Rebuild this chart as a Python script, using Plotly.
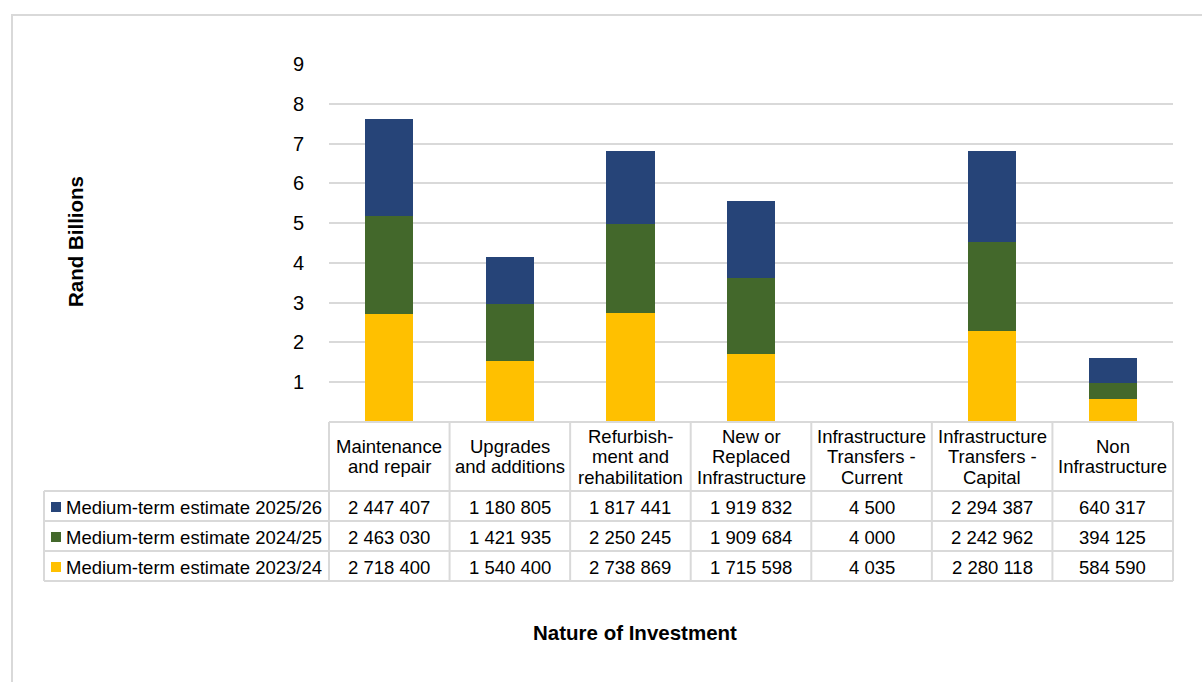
import plotly.graph_objects as go

# Nature of investment categories (header lines separated by "\n")
categories = [
    "Maintenance\nand repair",
    "Upgrades\nand additions",
    "Refurbish-\nment and\nrehabilitation",
    "New or\nReplaced\nInfrastructure",
    "Infrastructure\nTransfers -\nCurrent",
    "Infrastructure\nTransfers -\nCapital",
    "Non\nInfrastructure",
]

# Values in R thousand
est_2023_24 = [2718400, 1540400, 2738869, 1715598, 4035, 2280118, 584590]
est_2024_25 = [2463030, 1421935, 2250245, 1909684, 4000, 2242962, 394125]
est_2025_26 = [2447407, 1180805, 1817441, 1919832, 4500, 2294387, 640317]

series_names = [
    "Medium-term estimate 2025/26",
    "Medium-term estimate 2024/25",
    "Medium-term estimate 2023/24",
]
y_ticks = [1, 2, 3, 4, 5, 6, 7, 8, 9]

NAVY = "#264478"
GREEN = "#43682B"
GOLD = "#FFC000"
GRID = "#D9D9D9"
FONT = "Liberation Sans, Arial, sans-serif"

W, H = 1202, 682


def px(x):
    return x / W


def py(y):
    return 1 - y / H


def fmt(v):
    return f"{v:,}".replace(",", " ")


idx = list(range(len(categories)))
fig = go.Figure()
for vals, name, col in [
    (est_2023_24, series_names[2], GOLD),
    (est_2024_25, series_names[1], GREEN),
    (est_2025_26, series_names[0], NAVY),
]:
    fig.add_trace(go.Bar(
        x=idx, y=[v / 1e6 for v in vals], name=name,
        marker=dict(color=col, line=dict(width=0)), width=0.4,
    ))

# plot area geometry (pixels)
X0, X1 = 329, 1173
Y_TOP, Y_ZERO = 64, 422
ROWS = [491, 521, 551, 581]
LEG_X = 44
col_w = (X1 - X0) / len(categories)

shapes = []
line = dict(color=GRID, width=2)
# outer frame
shapes.append(dict(type="rect", xref="paper", yref="paper",
                   x0=px(12), x1=px(1215), y0=py(15), y1=py(695), line=line))
# header row borders
shapes.append(dict(type="line", xref="paper", yref="paper",
                   x0=px(X0), x1=px(X1), y0=py(Y_ZERO), y1=py(Y_ZERO), line=line))
for yy in ROWS:
    shapes.append(dict(type="line", xref="paper", yref="paper",
                       x0=px(LEG_X), x1=px(X1), y0=py(yy), y1=py(yy), line=line))
for i in range(len(categories) + 1):
    xx = X0 + i * col_w
    shapes.append(dict(type="line", xref="paper", yref="paper",
                       x0=px(xx), x1=px(xx), y0=py(Y_ZERO), y1=py(ROWS[-1]), line=line))
shapes.append(dict(type="line", xref="paper", yref="paper",
                   x0=px(LEG_X), x1=px(LEG_X), y0=py(ROWS[0]), y1=py(ROWS[-1]), line=line))

annotations = []
txt_font = dict(family=FONT, size=18.5, color="#000000")
# header labels
for i, lab in enumerate(categories):
    lines = lab.split("\n")
    n = len(lines)
    yc = (Y_ZERO + ROWS[0]) / 2
    for k, ln in enumerate(lines):
        yy = yc + (k - (n - 1) / 2) * 20.5
        annotations.append(dict(xref="x", yref="paper", x=i, y=py(yy), text=ln,
                                showarrow=False, font=txt_font,
                                xanchor="center", yanchor="middle"))

# data rows with legend keys
rows = [(series_names[0], NAVY, est_2025_26),
        (series_names[1], GREEN, est_2024_25),
        (series_names[2], GOLD, est_2023_24)]
for r, (name, col, vals) in enumerate(rows):
    yc = (ROWS[r] + ROWS[r + 1]) / 2
    shapes.append(dict(type="rect", xref="paper", yref="paper",
                       x0=px(51), x1=px(61), y0=py(yc - 4), y1=py(yc + 6),
                       fillcolor=col, line=dict(width=0)))
    annotations.append(dict(xref="paper", yref="paper", x=px(64), y=py(yc + 1),
                            text=name, showarrow=False, font=txt_font,
                            xanchor="left", yanchor="middle"))
    for i, v in enumerate(vals):
        annotations.append(dict(xref="x", yref="paper", x=i, y=py(yc + 1),
                                text=fmt(v), showarrow=False, font=txt_font,
                                xanchor="center", yanchor="middle"))

# axis titles
annotations.append(dict(xref="paper", yref="paper", x=px(75), y=py(242),
                        text="<b>Rand Billions</b>", textangle=-90, showarrow=False,
                        font=dict(family=FONT, size=20.5, color="#000000"),
                        xanchor="center", yanchor="middle"))
annotations.append(dict(xref="paper", yref="paper", x=px(635), y=py(632),
                        text="<b>Nature of Investment</b>", showarrow=False,
                        font=dict(family=FONT, size=20.5, color="#000000"),
                        xanchor="center", yanchor="middle"))

fig.update_layout(
    width=W, height=H, autosize=False,
    margin=dict(l=0, r=0, t=0, b=0, pad=0, autoexpand=False),
    paper_bgcolor="white", plot_bgcolor="white",
    barmode="stack", bargap=0.6, showlegend=False,
    font=dict(family=FONT, color="#000000"),
    xaxis=dict(domain=[px(X0), px(X1)], range=[-0.5, len(categories) - 0.5],
               showticklabels=False, showgrid=False, zeroline=False,
               showline=False, ticks="", automargin=False),
    yaxis=dict(domain=[py(Y_ZERO), py(Y_TOP)], range=[0, 9],
               tickvals=y_ticks, ticktext=[str(t) for t in y_ticks],
               showgrid=True, gridcolor=GRID, gridwidth=2,
               zeroline=False, showline=False, automargin=False,
               ticks="outside", ticklen=20, tickcolor="rgba(0,0,0,0)",
               tickfont=dict(family=FONT, size=20, color="#000000")),
    shapes=shapes, annotations=annotations,
)

fig.write_html("out.html")
